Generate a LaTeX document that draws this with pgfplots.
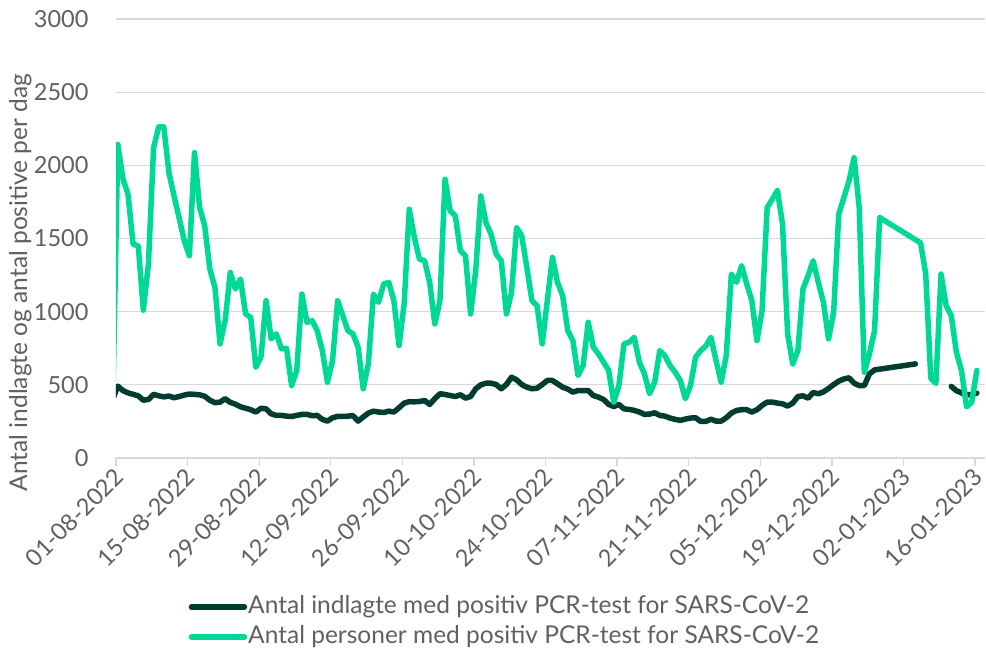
\documentclass[border=0pt]{standalone}
\usepackage{fontspec}
\setmainfont{Lato}
\usepackage{pgfplots}
\usepackage{pgfplotstable}
\pgfplotsset{compat=1.18}
\definecolor{darkline}{RGB}{0,61,48}
\definecolor{greenline}{RGB}{0,217,149}
\definecolor{txtgray}{RGB}{96,96,96}
\definecolor{gridgray}{RGB}{217,217,217}

\pgfplotstableread{
d v
-1 310
0 2143
1 1910
2 1800
3 1460
4 1450
5 1010
6 1330
7 2121
8 2262
9 2262
10 1950
11 1791
12 1640
13 1485
14 1382
15 2087
16 1712
17 1587
18 1291
19 1166
20 780
21 939
22 1268
23 1155
24 1223
25 984
26 961
27 620
28 689
29 1075
30 814
31 848
32 746
33 750
34 495
35 598
36 1120
37 927
38 939
39 870
40 734
41 518
42 666
43 1075
44 973
45 870
46 848
47 757
48 473
49 643
50 1120
51 1064
52 1189
53 1200
54 1075
55 768
56 1052
57 1700
58 1507
59 1359
60 1348
61 1200
62 916
63 1075
64 1905
65 1689
66 1655
67 1416
68 1382
69 984
70 1280
71 1791
72 1609
73 1530
74 1393
75 1348
76 984
77 1132
78 1575
79 1518
80 1302
81 1075
82 1041
83 780
84 1075
85 1371
86 1200
87 1109
88 870
89 802
90 564
91 632
92 927
93 757
94 711
95 655
96 598
97 382
98 495
99 780
100 791
101 825
102 655
103 575
104 439
105 518
106 734
107 700
108 632
109 586
110 530
111 405
112 495
113 689
114 734
115 765
116 825
117 666
118 518
119 700
120 1257
121 1200
122 1314
123 1189
124 1075
125 802
126 1007
127 1712
128 1768
129 1830
130 1598
131 848
132 643
133 734
134 1155
135 1246
136 1348
137 1200
138 1064
139 814
140 996
141 1666
142 1780
143 1893
144 2052
145 1712
146 586
147 711
148 870
149 1643
157 1470
158 1260
159 545
160 510
161 1257
162 1041
163 973
164 723
165 598
166 350
167 382
168 598
}\positive

\pgfplotstableread{
d v
-1 400
0 491
1 461
2 445
3 435
4 425
5 395
6 400
7 435
8 425
9 418
10 423
11 412
12 420
13 430
14 437
15 435
16 432
17 422
18 395
19 378
20 382
21 405
22 380
23 368
24 350
25 340
26 330
27 314
28 340
29 336
30 302
31 291
32 291
33 286
34 284
35 291
36 298
37 298
38 289
39 291
40 264
41 252
42 275
43 284
44 284
45 286
46 289
47 252
48 280
49 307
50 320
51 314
52 311
53 320
54 314
55 343
56 375
57 385
58 384
59 386
60 393
61 366
62 405
63 439
64 434
65 427
66 420
67 432
68 409
69 420
70 473
71 500
72 511
73 511
74 502
75 473
76 502
77 552
78 534
79 502
80 484
81 473
82 477
83 502
84 530
85 530
86 507
87 484
88 471
89 450
90 461
91 461
92 461
93 427
94 416
95 400
96 366
97 352
98 366
99 336
100 332
101 325
102 314
103 298
104 300
105 309
106 291
107 286
108 273
109 264
110 257
111 266
112 273
113 275
114 250
115 250
116 265
117 252
118 252
119 275
120 307
121 325
122 330
123 330
124 314
125 330
126 359
127 382
128 382
129 375
130 370
131 355
132 375
133 420
134 425
135 409
136 448
137 439
138 452
139 475
140 502
141 525
142 540
143 548
144 511
145 495
146 495
147 575
148 602
156 643
160 nan
163 489
164 460
165 445
166 430
167 435
168 443
}\admitted

\begin{document}
\begin{tikzpicture}
\begin{axis}[
  scale only axis,
  width=869pt, height=439pt,
  xmin=-0.35, xmax=169.6,
  ymin=0, ymax=3000,
  ytick={0,500,...,3000},
  xtick={-0.35,13.65,27.65,41.65,55.65,69.65,83.65,97.65,111.65,125.65,139.65,153.65,167.65},
  xticklabels={01-08-2022,15-08-2022,29-08-2022,12-09-2022,26-09-2022,10-10-2022,24-10-2022,07-11-2022,21-11-2022,05-12-2022,19-12-2022,02-01-2023,16-01-2023},
  axis x line*=bottom,
  axis y line*=left,
  y axis line style={draw=none},
  x axis line style={color=gridgray, line width=1.3pt, -},
  xtick style={color=gridgray, line width=1.3pt},
  ytick style={draw=none},
  tick align=outside,
  major tick length=8pt,
  ymajorgrids,
  grid style={color=gridgray, line width=1.3pt},
  tick label style={font=\fontsize{23.5}{28}\selectfont, text=txtgray},
  /pgf/number format/assume math mode=true,
  /pgf/number format/set thousands separator={},
  xticklabel style={rotate=45, anchor=east, inner sep=1.5pt, yshift=-7pt, xshift=-1pt},
  yticklabel style={xshift=-16pt},
  every axis y label/.style={at={(axis description cs:-0.110,0.40)}, rotate=90, anchor=center, font=\fontsize{24.5}{29}\selectfont, text=txtgray},
  ylabel={Antal indlagte og antal positive per dag},
  unbounded coords=jump,
  legend style={draw=none, fill=none, at={(axis description cs:0.08,-0.306)}, anchor=north west,
    font=\fontsize{24.5}{29}\selectfont, text=txtgray, row sep=5pt, nodes={inner sep=1pt, text height=18pt, text depth=5pt}},
  legend cell align=left,
  legend image code/.code={\draw[line width=5.5pt, line cap=round] (2pt,0pt) -- (55pt,0pt);},
]
\addplot[darkline, line width=5.5pt, line join=round, line cap=round] table[x=d, y=v] {\admitted};
\addlegendentry{Antal indlagte med positiv PCR-test for SARS-CoV-2}
\addplot[greenline, line width=5.5pt, line join=round, line cap=round] table[x=d, y=v] {\positive};
\addlegendentry{Antal personer med positiv PCR-test for SARS-CoV-2}
\coordinate (sw) at (rel axis cs:0,0);
\coordinate (ne) at (rel axis cs:1,1);
\end{axis}
\pgfresetboundingbox
\path[use as bounding box] ([shift={(-116pt,-192pt)}]sw) rectangle ([shift={(1pt,19pt)}]ne);
\end{tikzpicture}
\end{document}
